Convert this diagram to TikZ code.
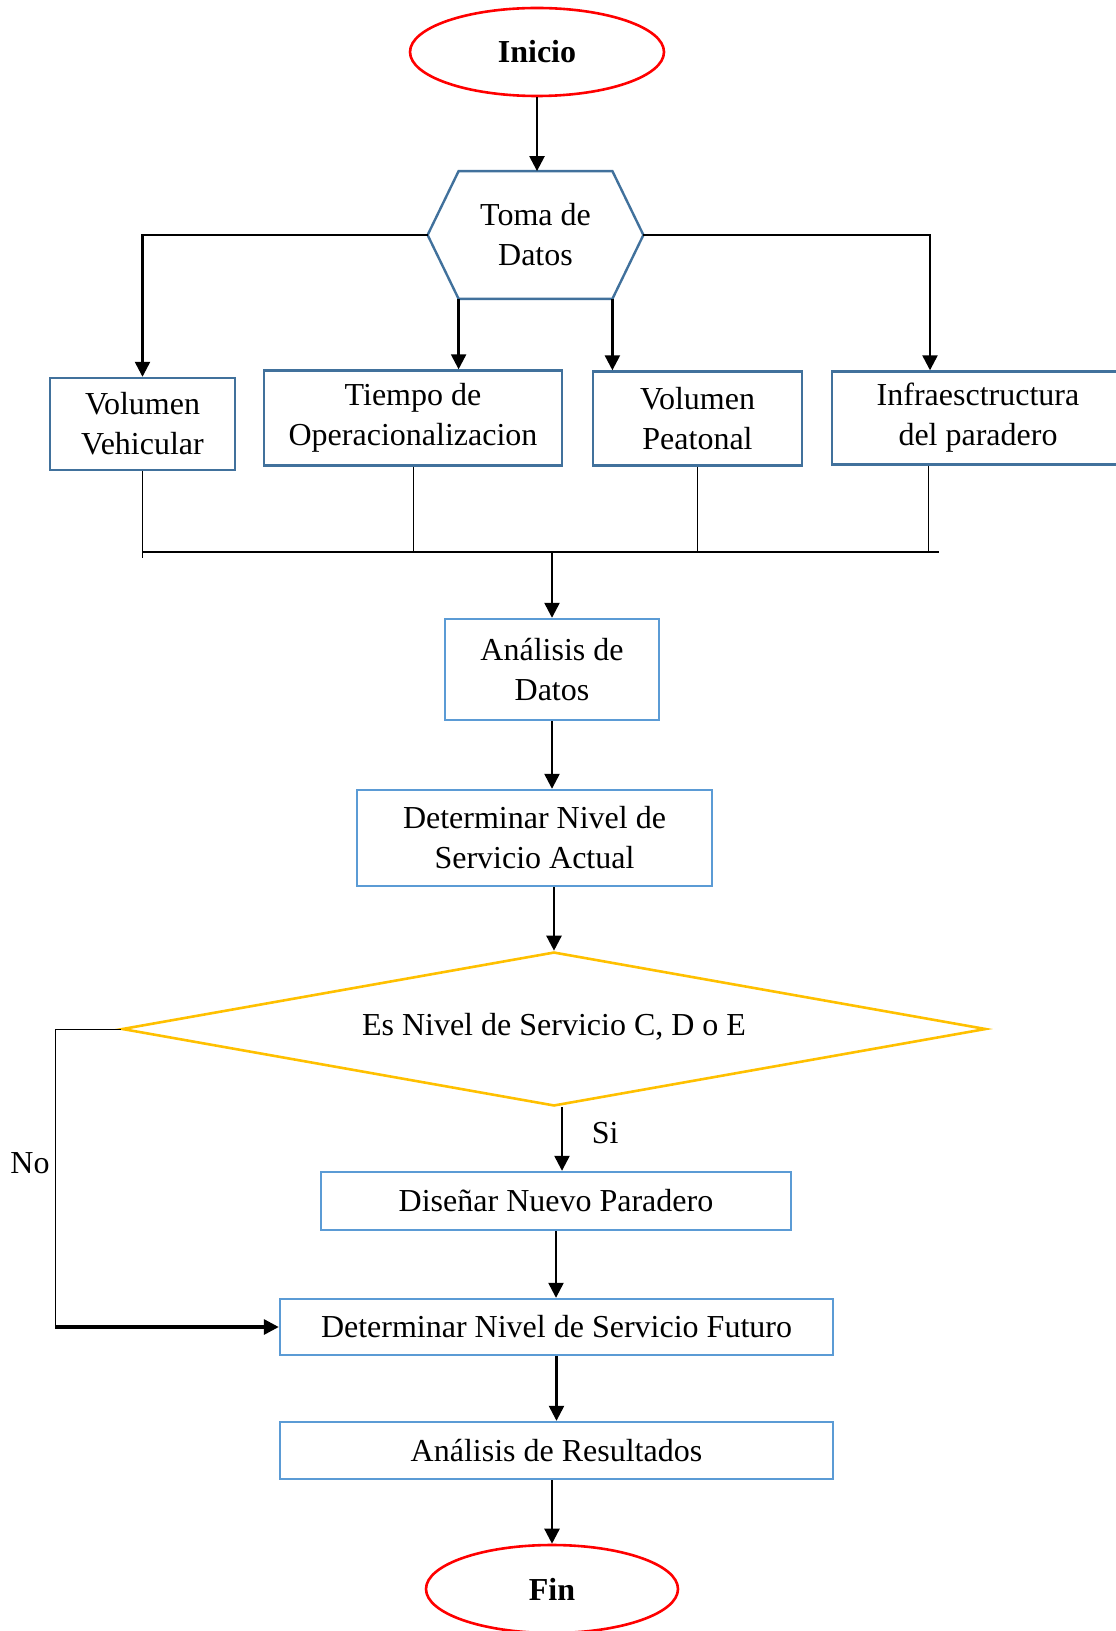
\documentclass[tikz,border=0pt]{standalone}
\usepackage{fontspec}
\setmainfont{Liberation Serif}
\usepackage{tikz}
\usetikzlibrary{shapes.geometric}
\usetikzlibrary{arrows.meta}
\definecolor{hexblue}{HTML}{41719C}
\definecolor{boxblue}{HTML}{5B9BD5}
\definecolor{gold}{HTML}{FFC000}

\begin{document}
\begin{tikzpicture}[x=0.5pt,y=-0.5pt,>={Triangle[length=7.5pt,width=7.5pt]},
        font=\fontsize{16}{20}\selectfont,
        terminal/.style={ellipse,draw=red,line width=1.3pt,minimum width=127pt,minimum height=44pt,font=\fontsize{16}{20}\selectfont\bfseries},
        databox/.style={rectangle,draw=hexblue,line width=1.2pt,align=center,inner sep=0pt},
        procbox/.style={rectangle,draw=boxblue,line width=1.2pt,align=center,inner sep=0pt},
        decision/.style={diamond,draw=gold,line width=1.3pt,aspect=5.64,minimum width=432pt,minimum height=77pt,inner sep=0pt},
        flow/.style={->,line width=1.2pt},
        bar/.style={line width=0.5pt}]
            \useasboundingbox (0,0) rectangle (1115,1631);
            % inicio y toma de datos
            \node[terminal] (inicio) at (537,52) {Inicio};
            \node[inner sep=0pt,minimum width=76.5pt,minimum height=63.5pt,align=center] (toma) at (535.5,235) {Toma de\\Datos};
            \coordinate (tomaW) at ([xshift=-15.5pt]toma.west);
            \coordinate (tomaE) at ([xshift=15.5pt]toma.east);
            \draw[hexblue,line width=1.2pt] (toma.north west) -- (toma.north east) -- (tomaE) -- (toma.south east) -- (toma.south west) -- (tomaW) -- cycle;
            % datos
            \node[databox,minimum width=92.5pt,minimum height=46pt] (vehic) at (142.5,424) {Volumen\\Vehicular};
            \node[databox,minimum width=149pt,minimum height=47.5pt] (tiempo) at (413,418) {Tiempo de\\Operacionalizacion};
            \node[databox,minimum width=104.5pt,minimum height=47pt] (peat) at (697.5,418.5) {Volumen\\Peatonal};
            \node[databox,minimum width=146pt,minimum height=46.5pt] (infra) at (978,418) {Infraesctructura\\del paradero};
            \draw[flow] (inicio.south) -- (inicio.south |- toma.north);
            \draw[flow] (tomaW) -| (vehic.north);
            \draw[flow] (tomaE) -| ([xshift=-24pt]infra.north);
            \draw[flow] (toma.south west) -- (toma.south west |- tiempo.north);
            \draw[flow] (toma.south east) -- (toma.south east |- peat.north);
            \coordinate (bus) at (552,552);
            \draw[bar] (vehic.south) -- (vehic.south |- bus) -- ++(0,6);
            \draw[bar] (tiempo.south) -- (tiempo.south |- bus);
            \draw[bar] (peat.south) -- (peat.south |- bus);
            \draw[bar] ([xshift=-25pt]infra.south) -- ([xshift=-25pt]infra.south |- bus);
            \draw[line width=0.9pt] (vehic.south |- bus) -- ([xshift=-19.5pt]infra.south |- bus);
            % analisis
            \node[procbox,minimum width=107pt,minimum height=50.5pt] (analisis) at (552,669.5) {Análisis de\\Datos};
            \node[procbox,minimum width=177.5pt,minimum height=48pt] (actual) at (534.5,838) {Determinar Nivel de\\Servicio Actual};
            \node[decision] (dec) at (554,1029) {\raisebox{4.5pt}{Es Nivel de Servicio C, D o E}};
            \node[procbox,minimum width=235pt,minimum height=29pt] (disenar) at (556,1201) {Diseñar Nuevo Paradero};
            \node[procbox,minimum width=276.5pt,minimum height=28pt] (futuro) at (556.5,1327) {Determinar Nivel de Servicio Futuro};
            \node[procbox,minimum width=276.5pt,minimum height=28.5pt] (result) at (556.5,1450.5) {Análisis de Resultados};
            \node[terminal,minimum width=126pt] (fin) at (552,1589) {Fin};
            \draw[flow] (bus) -- (analisis.north);
            \draw[flow] (analisis.south) -- (analisis.south |- actual.north);
            \draw[flow] (dec.north |- actual.south) -- (dec.north);
            \draw[flow] ([xshift=4pt]dec.south) -- ([xshift=4pt]dec.south |- disenar.north) node[pos=0.4,right=11pt] (si) {Si};
            \draw[flow] (disenar.south) -- (disenar.south |- futuro.north);
            \draw[flow] (futuro.south) -- (futuro.south |- result.north);
            \draw[flow] (fin.north |- result.south) -- (fin.north);
            % rama no
            \coordinate (nocorner) at (55,1327);
            \draw[bar] (dec.west) -| (nocorner);
            \draw[flow,line width=1.6pt] (nocorner) -- (futuro.west);
            \node (nolabel) at (30,1163) {No};
        \end{tikzpicture}
\end{document}
